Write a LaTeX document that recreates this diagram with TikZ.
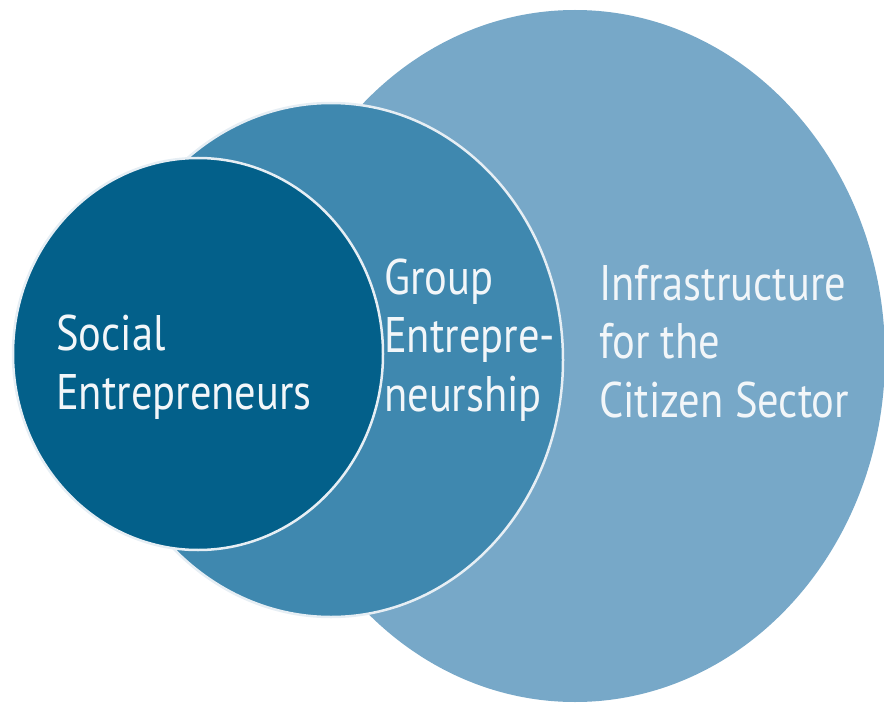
\documentclass[tikz,border=0pt]{standalone}
\usepackage{fontspec}
\setmainfont{PT Sans}[FakeStretch=0.85]
\usetikzlibrary{shapes.geometric}
\definecolor{cdark}{HTML}{03608A}
\definecolor{cmid}{HTML}{3F88AF}
\definecolor{clight}{HTML}{77A8C8}
\definecolor{ctext}{HTML}{F2F6F9}
\definecolor{crim}{HTML}{E6EEF4}
\tikzset{
  disc/.style={ellipse, inner sep=0pt, outer sep=0pt},
  rim/.style={draw=crim, line width=2.5pt},
  lbl/.style={anchor=base west, inner sep=0pt, align=left, text=ctext,
    font=\fontsize{50}{58.5}\selectfont}
}
\begin{document}
\begin{tikzpicture}[x=1pt,y=-1pt]
\useasboundingbox (0,0) rectangle (884,706);
\node[disc, fill=clight, minimum width=620pt, minimum height=692pt] (infra) at (575,356) {};
\node[disc, fill=cmid, rim, minimum width=464pt, minimum height=514pt] (group) at (331,360) {};
\node[disc, fill=cdark, rim, minimum width=370pt, minimum height=392pt] (social) at (198,354) {};
\node[lbl] (tsocial) at (56,409) {Social\\Entrepreneurs};
\node[lbl] (tgroup) at (384,411) {Group\\Entrepre-\\neurship};
\node[lbl] (tinfra) at (599,417) {Infrastructure\\for the\\Citizen Sector};
\end{tikzpicture}
\end{document}
